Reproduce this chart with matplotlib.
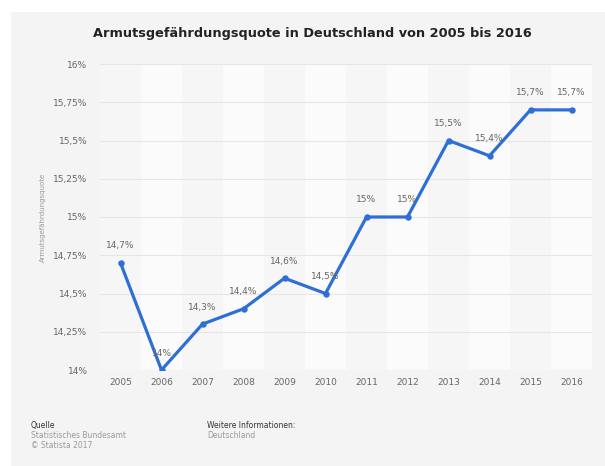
import matplotlib
matplotlib.use("Agg")
import matplotlib.pyplot as plt
from matplotlib.patches import Rectangle
from matplotlib.ticker import FixedLocator

years = [2005, 2006, 2007, 2008, 2009, 2010, 2011, 2012, 2013, 2014, 2015, 2016]
quote = [14.7, 14.0, 14.3, 14.4, 14.6, 14.5, 15.0, 15.0, 15.5, 15.4, 15.7, 15.7]
point_labels = ["14,7%", "14%", "14,3%", "14,4%", "14,6%", "14,5%",
                "15%", "15%", "15,5%", "15,4%", "15,7%", "15,7%"]
y_ticks = [14.0, 14.25, 14.5, 14.75, 15.0, 15.25, 15.5, 15.75, 16.0]
y_tick_labels = ["14%", "14,25%", "14,5%", "14,75%", "15%", "15,25%", "15,5%", "15,75%", "16%"]

W, H = 605, 466
fig = plt.figure(figsize=(W / 100, H / 100), dpi=100)
fig.patch.set_facecolor("white")

# grey card behind everything
fig.patches.append(Rectangle((11 / W, 0), 1 - 11 / W, (H - 12) / H,
                             transform=fig.transFigure, facecolor="#f4f4f4",
                             edgecolor="none", zorder=-10))

ax = fig.add_axes([100 / W, (H - 370) / H, 492 / W, 306 / H])
ax.set_facecolor("#f6f6f6")
ax.set_xlim(years[0] - 0.5, years[-1] + 0.5)
ax.set_ylim(14.0, 16.0)

# alternating column stripes
for i, yr in enumerate(years):
    if i % 2 == 1:
        ax.axvspan(yr - 0.5, yr + 0.5, color="#fbfbfb", lw=0, zorder=0)

ax.yaxis.set_major_locator(FixedLocator(y_ticks))
ax.set_yticklabels(y_tick_labels)
ax.set_xticks(years)
ax.set_xticklabels([str(y) for y in years])
ax.grid(axis="y", color="#e6e6e6", lw=0.8, zorder=1)
ax.tick_params(length=0, labelsize=6.5, labelcolor="#666666", pad=9)
ax.tick_params(axis="x", pad=6)
for s in ax.spines.values():
    s.set_visible(False)

ax.plot(years, quote, color="#2e6fd5", lw=2.3, marker="o", markersize=3.6,
        zorder=3, solid_joinstyle="miter")
for x, y, lab in zip(years, quote, point_labels):
    ax.annotate(lab, (x, y), xytext=(0, 9), textcoords="offset points",
                ha="center", va="bottom", fontsize=6.5, color="#666666", zorder=4)

ax.set_ylabel("Armutsgefährdungsquote", fontsize=5, color="#999999", labelpad=5)

fig.text(312 / W, 1 - 34 / H, "Armutsgefährdungsquote in Deutschland von 2005 bis 2016",
         ha="center", va="center", fontsize=9.3, fontweight="bold", color="#222222")

fig.text(31 / W, 1 - 428 / H, "Quelle", fontsize=5.5, color="#333333", va="baseline")
fig.text(31 / W, 1 - 438 / H, "Statistisches Bundesamt", fontsize=5.5, color="#999999", va="baseline")
fig.text(31 / W, 1 - 448 / H, "© Statista 2017", fontsize=5.5, color="#999999", va="baseline")
fig.text(207 / W, 1 - 428 / H, "Weitere Informationen:", fontsize=5.5, color="#333333", va="baseline")
fig.text(207 / W, 1 - 438 / H, "Deutschland", fontsize=5.5, color="#999999", va="baseline")

fig.savefig("out.png", dpi=100, facecolor=fig.get_facecolor())
